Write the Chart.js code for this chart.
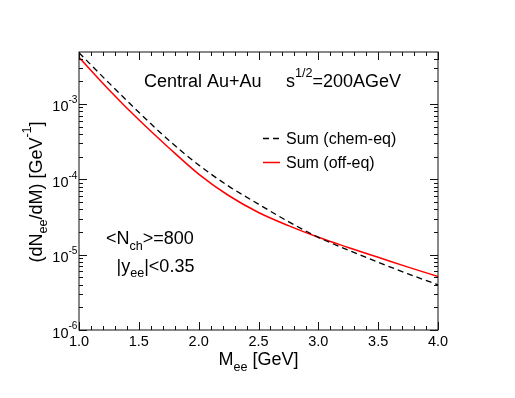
<!DOCTYPE html>
<html>
<head>
<meta charset="utf-8">
<script src="https://cdn.jsdelivr.net/npm/chart.js@4.4.1/dist/chart.umd.min.js"></script>
<style>
  html, body { margin: 0; padding: 0; background: #fff; }
</style>
</head>
<body>
<canvas id="dileptonChart" width="515" height="398"></canvas>
<script>
// dielectron invariant mass spectrum, central Au+Au
const massGeV   = [1.0, 1.25, 1.5, 1.75, 2.0, 2.25, 2.5, 2.75, 3.0, 3.25, 3.5, 3.75, 4.0];
const sumChemEq = [4.79e-3, 1.905e-3, 7.76e-4, 3.31e-4, 1.55e-4, 8.13e-5, 4.68e-5, 2.75e-5, 1.70e-5, 1.15e-5, 7.94e-6, 5.56e-6, 3.98e-6];
const sumOffEq  = [4.17e-3, 1.55e-3, 6.17e-4, 2.63e-4, 1.175e-4, 6.10e-5, 3.63e-5, 2.43e-5, 1.70e-5, 1.245e-5, 9.23e-6, 6.84e-6, 5.13e-6];
const seriesLabels = ['Sum (chem-eq)', 'Sum (off-eq)'];
const xTickValues = [1.0, 1.5, 2.0, 2.5, 3.0, 3.5, 4.0];
const yDecades = [-6, -5, -4, -3];

const FONT = '"Liberation Sans", Arial, Helvetica, sans-serif';

// text with sub/superscripts: parts = [[text, kind]], kind '', 'sub', 'sup'
function partFont(size, kind) {
  return (kind ? size * 0.7 : size) + 'px ' + FONT;
}
function richWidth(ctx, parts, size) {
  let w = 0;
  for (const [t, k] of parts) {
    ctx.font = partFont(size, k);
    w += ctx.measureText(t).width;
  }
  return w;
}
function drawRich(ctx, parts, x, y, size, align) {
  const w = richWidth(ctx, parts, size);
  let cx = x;
  if (align === 'center') cx = x - w / 2;
  if (align === 'right') cx = x - w;
  ctx.textAlign = 'left';
  ctx.textBaseline = 'alphabetic';
  for (const [t, k] of parts) {
    ctx.font = partFont(size, k);
    let dy = 0;
    if (k === 'sub') dy = size * 0.33;
    if (k === 'sup') dy = -size * 0.57;
    ctx.fillText(t, cx, y + dy);
    cx += ctx.measureText(t).width;
  }
}

const rootStyle = {
  id: 'rootStyle',
  afterDatasetsDraw(chart) {
    const ctx = chart.ctx;
    const a = chart.chartArea;
    const xs = chart.scales.x, ys = chart.scales.y;
    ctx.save();
    ctx.strokeStyle = '#111';
    ctx.fillStyle = '#111';
    ctx.lineWidth = 1;

    // frame
    ctx.strokeRect(a.left, a.top, a.right - a.left, a.bottom - a.top);

    // x ticks (bottom + top, inward)
    ctx.beginPath();
    for (let i = 0; i <= 30; i++) {
      const v = 1 + i * 0.1;
      const px = Math.round(xs.getPixelForValue(v)) + 0.5;
      const len = i % 5 === 0 ? 8 : 4;
      ctx.moveTo(px, a.bottom); ctx.lineTo(px, a.bottom - len);
      ctx.moveTo(px, a.top); ctx.lineTo(px, a.top + len);
    }
    // y ticks (left + right, inward)
    for (const d of yDecades) {
      for (let m = 1; m <= 9; m++) {
        const v = m * Math.pow(10, d);
        if (v > ys.max) break;
        const py = Math.round(ys.getPixelForValue(v)) + 0.5;
        const len = m === 1 ? 8 : 4;
        ctx.moveTo(a.left, py); ctx.lineTo(a.left + len, py);
        ctx.moveTo(a.right, py); ctx.lineTo(a.right - len, py);
      }
    }
    ctx.stroke();

    // x tick labels
    ctx.fillStyle = '#000';
    ctx.font = '14.5px ' + FONT;
    ctx.textAlign = 'center';
    ctx.textBaseline = 'alphabetic';
    for (const v of xTickValues) {
      ctx.fillText(v.toFixed(1), xs.getPixelForValue(v), a.bottom + 15.5);
    }
    // y tick labels 10^d
    for (const d of yDecades) {
      const py = ys.getPixelForValue(Math.pow(10, d));
      drawRich(ctx, [['10', ''], [String(d), 'sup']], a.left - 1.5, py + 7.5, 14.5, 'right');
    }

    // axis titles
    drawRich(ctx, [['M', ''], ['ee', 'sub'], [' [GeV]', '']], (a.left + a.right) / 2, a.bottom + 35, 18, 'center');
    ctx.save();
    ctx.translate(41.5, (a.top + a.bottom) / 2 + 1);
    ctx.rotate(-Math.PI / 2);
    drawRich(ctx, [['(dN', ''], ['ee', 'sub'], ['/dM) [GeV', ''], ['-1', 'sup'], [']', '']], 0, 0, 18, 'center');
    ctx.restore();

    // annotations
    drawRich(ctx, [['Central Au+Au', '']], 144, 87, 18, 'left');
    drawRich(ctx, [['s', ''], ['1/2', 'sup'], ['=200AGeV', '']], 286, 87, 18, 'left');
    drawRich(ctx, [['<N', ''], ['ch', 'sub'], ['>=800', '']], 106, 244, 18, 'left');
    drawRich(ctx, [['|y', ''], ['ee', 'sub'], ['|<0.35', '']], 116.5, 271.5, 18, 'left');

    // legend
    const rows = [138.5, 162.5];
    chart.data.datasets.forEach((ds, i) => {
      const y = rows[i];
      ctx.save();
      ctx.strokeStyle = ds.borderColor;
      ctx.lineWidth = ds.borderWidth;
      ctx.setLineDash(ds.borderDash || []);
      ctx.beginPath();
      ctx.moveTo(263, y); ctx.lineTo(280, y);
      ctx.stroke();
      ctx.restore();
      ctx.fillStyle = '#000';
      ctx.font = '16px ' + FONT;
      ctx.textAlign = 'left';
      ctx.fillText(ds.label, 286, y + 5.8);
    });

    ctx.restore();
  }
};

new Chart(document.getElementById('dileptonChart'), {
  type: 'line',
  data: {
    datasets: [
      {
        label: seriesLabels[0],
        data: massGeV.map((m, i) => ({ x: m, y: sumChemEq[i] })),
        borderColor: '#000',
        borderWidth: 1.3,
        borderDash: [6, 4],
        pointRadius: 0,
        cubicInterpolationMode: 'monotone',
        fill: false
      },
      {
        label: seriesLabels[1],
        data: massGeV.map((m, i) => ({ x: m, y: sumOffEq[i] })),
        borderColor: '#ff0000',
        borderWidth: 1.5,
        pointRadius: 0,
        cubicInterpolationMode: 'monotone',
        fill: false
      }
    ]
  },
  options: {
    responsive: false,
    animation: false,
    devicePixelRatio: 1,
    layout: { padding: { left: 79, top: 52, right: 77, bottom: 68 } },
    plugins: { legend: { display: false }, tooltip: { enabled: false } },
    scales: {
      x: { type: 'linear', min: 1.0, max: 4.0, display: false },
      y: { type: 'logarithmic', min: 1e-6, max: 4.9e-3, display: false }
    }
  },
  plugins: [rootStyle]
});
</script>
</body>
</html>
